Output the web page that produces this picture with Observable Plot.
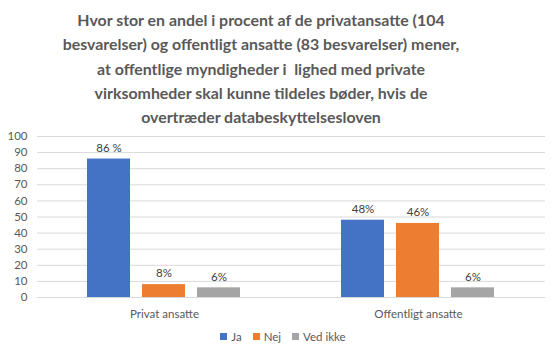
<!DOCTYPE html>
<html>
<head>
<meta charset="utf-8">
<script src="https://cdn.jsdelivr.net/npm/d3@7"></script>
<script src="https://cdn.jsdelivr.net/npm/@observablehq/plot@0.6"></script>
<style>
  html, body { margin: 0; padding: 0; background: #fff; }
  body { width: 560px; height: 357px; overflow: hidden; font-family: Lato, "Open Sans", sans-serif; }
  #title { height: 128px; padding-top: 8px; padding-right: 38px; box-sizing: border-box; text-align: center; color: #595959; font-weight: bold; font-size: 15.9px; line-height: 24.3px; }
  #chart svg { display: block; }
  #legend { display: flex; justify-content: center; gap: 11px; font-size: 11.5px; color: #595959; margin-top: 8px; margin-left: 6px; }
  #legend span.item { display: inline-flex; align-items: center; }
  #legend span.sw { display: inline-block; width: 7px; height: 7px; margin-right: 4px; }
</style>
</head>
<body>
<div id="title">Hvor stor en andel i procent af de privatansatte (104<br>besvarelser) og offentligt ansatte (83 besvarelser) mener,<br>at offentlige myndigheder i&nbsp; lighed med private<br>virksomheder skal kunne tildeles bøder, hvis de<br>overtræder databeskyttelsesloven</div>
<div id="chart"></div>
<div id="legend"></div>
<script>
const categories = ["Privat ansatte", "Offentligt ansatte"];
const series = ["Ja", "Nej", "Ved ikke"];
const colors = ["#4472C4", "#ED7D31", "#A5A5A5"];
const jaValues = [86, 48];
const nejValues = [8, 46];
const vedIkkeValues = [6, 6];
const jaLabels = ["86 %", "48%"];
const nejLabels = ["8%", "46%"];
const vedIkkeLabels = ["6%", "6%"];
const yTicks = [0, 10, 20, 30, 40, 50, 60, 70, 80, 90, 100];

const valuesBySeries = [jaValues, nejValues, vedIkkeValues];
const labelsBySeries = [jaLabels, nejLabels, vedIkkeLabels];
const data = [];
categories.forEach((c, ci) => {
  series.forEach((s, si) => {
    data.push({category: c, series: s, value: valuesBySeries[si][ci], label: labelsBySeries[si][ci]});
  });
});

const chart = Plot.plot({
  width: 560,
  height: 194,
  marginLeft: 37,
  marginRight: 15,
  marginTop: 8,
  marginBottom: 25,
  style: {fontFamily: "Lato, 'Open Sans', sans-serif", fontSize: "11.5px", color: "#595959", background: "#fff"},
  fx: {domain: categories, padding: 0, label: null, tickSize: 0, tickPadding: 12},
  x: {domain: series, paddingInner: 0.214, paddingOuter: 0.875, axis: null},
  y: {domain: [0, 100], ticks: yTicks, label: null, tickSize: 0, tickPadding: 10},
  color: {domain: series, range: colors},
  marks: [
    Plot.gridY(yTicks, {stroke: "#d9d9d9", strokeOpacity: 1, strokeWidth: 1}),
    Plot.axisY({ticks: yTicks, tickSize: 0, tickPadding: 10, label: null, fill: "#595959"}),
    Plot.barY(data, {fx: "category", x: "series", y: "value", fill: "series"}),
    Plot.text(data, {fx: "category", x: "series", y: "value", text: "label", dy: -11, fill: "#404040", fontSize: 11.5})
  ]
});
document.getElementById("chart").appendChild(chart);

const legend = document.getElementById("legend");
series.forEach((s, i) => {
  const item = document.createElement("span");
  item.className = "item";
  const sw = document.createElement("span");
  sw.className = "sw";
  sw.style.background = colors[i];
  item.appendChild(sw);
  item.appendChild(document.createTextNode(s));
  legend.appendChild(item);
});
</script>
</body>
</html>
